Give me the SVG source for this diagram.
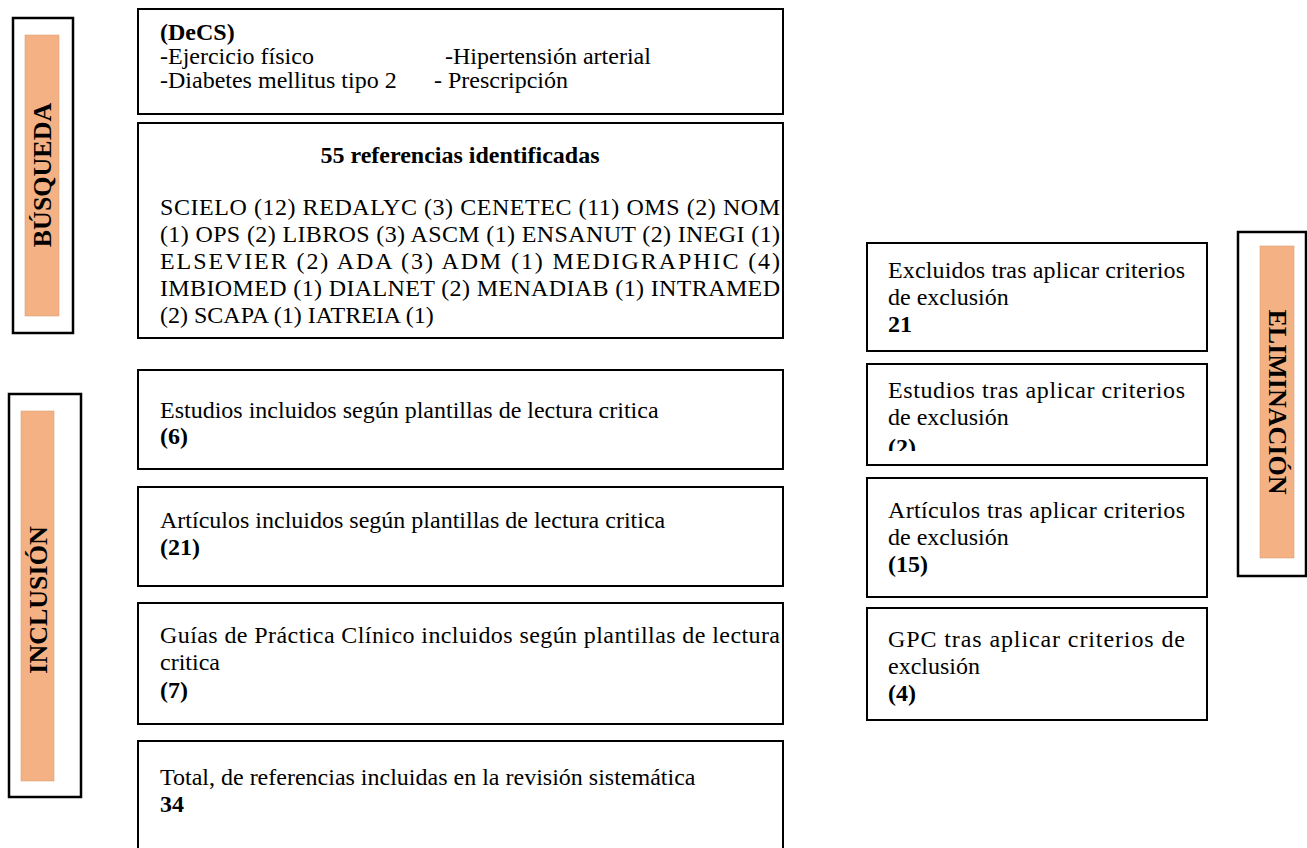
<svg xmlns="http://www.w3.org/2000/svg" width="1307" height="848" viewBox="0 0 1307 848">
<style>
.box{fill:#fff;stroke:#000;stroke-width:2}
.lab{fill:#fff;stroke:#000;stroke-width:2.5}
.band{fill:#F4B183;stroke:#d9a07a;stroke-width:0.6}
.t{font-family:"Liberation Serif","Times New Roman",serif;font-size:24px;fill:#000}
.b{font-weight:bold}
.v{font-family:"Liberation Serif","Times New Roman",serif;font-size:26px;font-weight:bold;fill:#000}
</style>
<defs>
<clipPath id="clip2"><rect x="860" y="360" width="360" height="91"/></clipPath>
</defs>
<rect width="1307" height="848" fill="#fff"/>

<g id="label-busqueda">
<rect class="lab" x="13" y="18" width="60" height="315"/>
<rect class="band" x="25" y="35" width="34" height="281"/>
<text class="v" x="42" y="175" text-anchor="middle" dominant-baseline="central" transform="rotate(-90 42 175)">BÚSQUEDA</text>
</g>

<g id="label-inclusion">
<rect class="lab" x="9" y="394" width="72" height="403"/>
<rect class="band" x="21" y="411" width="33" height="370"/>
<text class="v" x="38" y="600" text-anchor="middle" dominant-baseline="central" transform="rotate(-90 38 600)">INCLUSIÓN</text>
</g>

<g id="label-eliminacion">
<rect class="lab" x="1238" y="232" width="68" height="344"/>
<rect class="band" x="1260" y="246" width="34" height="312"/>
<text class="v" x="1277" y="402" text-anchor="middle" dominant-baseline="central" transform="rotate(90 1277 402)">ELIMINACIÓN</text>
</g>

<g id="decs">
<rect class="box" x="138" y="9" width="645" height="105"/>
<text class="t b" x="160" y="40">(DeCS)</text>
<text class="t" y="64"><tspan x="160">-Ejercicio físico</tspan><tspan x="445">-Hipertensión arterial</tspan></text>
<text class="t" y="88"><tspan x="160">-Diabetes mellitus tipo 2</tspan><tspan x="434">- Prescripción</tspan></text>
</g>

<g id="referencias">
<rect class="box" x="138" y="123" width="645" height="215"/>
<text class="t b" x="460" y="163" text-anchor="middle">55 referencias identificadas</text>
<text class="t" x="160" y="215" textLength="620" lengthAdjust="spacing">SCIELO (12) REDALYC (3) CENETEC (11) OMS (2) NOM</text>
<text class="t" x="160" y="242" textLength="620" lengthAdjust="spacing">(1) OPS (2) LIBROS (3) ASCM (1) ENSANUT (2) INEGI (1)</text>
<text class="t" x="160" y="269" textLength="620" lengthAdjust="spacing">ELSEVIER (2) ADA (3) ADM (1) MEDIGRAPHIC (4)</text>
<text class="t" x="160" y="296" textLength="620" lengthAdjust="spacing">IMBIOMED (1) DIALNET (2) MENADIAB (1) INTRAMED</text>
<text class="t" x="160" y="323">(2) SCAPA (1) IATREIA (1)</text>
</g>

<g id="estudios-incluidos">
<rect class="box" x="138" y="370" width="645" height="99"/>
<text class="t" x="160" y="418">Estudios incluidos según plantillas de lectura critica</text>
<text class="t b" x="160" y="444">(6)</text>
</g>

<g id="articulos-incluidos">
<rect class="box" x="138" y="487" width="645" height="99"/>
<text class="t" x="160" y="528">Artículos incluidos según plantillas de lectura critica</text>
<text class="t b" x="160" y="555">(21)</text>
</g>

<g id="guias-incluidas">
<rect class="box" x="138" y="603" width="645" height="121"/>
<text class="t" x="160" y="643" textLength="620" lengthAdjust="spacing">Guías de Práctica Clínico incluidos según plantillas de lectura</text>
<text class="t" x="160" y="670">critica</text>
<text class="t b" x="160" y="698">(7)</text>
</g>

<g id="total">
<rect class="box" x="138" y="741" width="645" height="120"/>
<text class="t" x="160" y="785">Total, de referencias incluidas en la revisión sistemática</text>
<text class="t b" x="160" y="812">34</text>
</g>

<g id="excluidos">
<rect class="box" x="867" y="243" width="340" height="108"/>
<text class="t" x="888" y="278" textLength="297" lengthAdjust="spacing">Excluidos tras aplicar criterios</text>
<text class="t" x="888" y="305">de exclusión</text>
<text class="t b" x="888" y="332">21</text>
</g>

<g id="estudios-excluidos">
<rect class="box" x="867" y="364" width="340" height="101"/>
<text class="t" x="888" y="398" textLength="297" lengthAdjust="spacing">Estudios tras aplicar criterios</text>
<text class="t" x="888" y="425">de exclusión</text>
<text class="t b" x="888" y="455" clip-path="url(#clip2)">(2)</text>
</g>

<g id="articulos-excluidos">
<rect class="box" x="867" y="478" width="340" height="119"/>
<text class="t" x="888" y="518" textLength="297" lengthAdjust="spacing">Artículos tras aplicar criterios</text>
<text class="t" x="888" y="545">de exclusión</text>
<text class="t b" x="888" y="572">(15)</text>
</g>

<g id="gpc-excluidas">
<rect class="box" x="867" y="608" width="340" height="112"/>
<text class="t" x="888" y="647" textLength="297" lengthAdjust="spacing">GPC tras aplicar criterios de</text>
<text class="t" x="888" y="674">exclusión</text>
<text class="t b" x="888" y="701">(4)</text>
</g>

<g id="connectors"></g>
</svg>
